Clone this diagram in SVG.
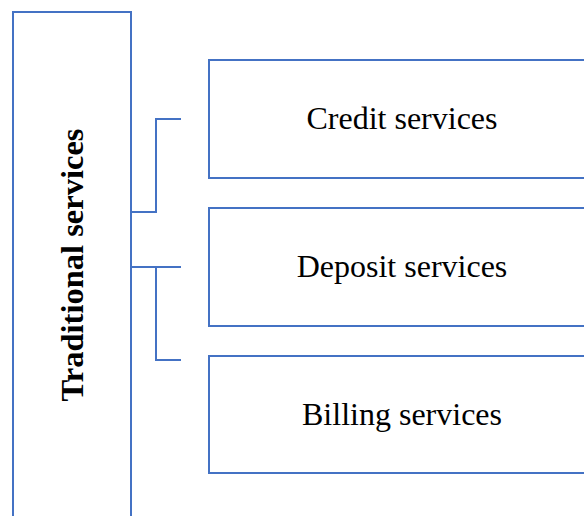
<svg xmlns="http://www.w3.org/2000/svg" width="584" height="516" viewBox="0 0 584 516">
<style>
.box{fill:#fff;stroke:#4472C4;stroke-width:2}
.conn{fill:none;stroke:#4472C4;stroke-width:2}
.lbl{font-family:"Liberation Serif","Times New Roman",serif;font-size:32px;fill:#000;text-anchor:middle}
.main{font-family:"Liberation Serif","Times New Roman",serif;font-size:32.5px;font-weight:bold;fill:#000;text-anchor:middle}
</style>
<rect width="584" height="516" fill="#fff"/>
<g id="traditional">
<rect class="box" x="13" y="12" width="118" height="520"/>
<text class="main" transform="translate(83,265) rotate(-90)">Traditional services</text>
</g>
<g id="credit">
<rect class="box" x="209" y="60" width="390" height="118"/>
<text class="lbl" x="402" y="129">Credit services</text>
</g>
<g id="deposit">
<rect class="box" x="209" y="208" width="390" height="118"/>
<text class="lbl" x="402" y="277">Deposit services</text>
</g>
<g id="billing">
<rect class="box" x="209" y="356" width="390" height="117"/>
<text class="lbl" x="402" y="425">Billing services</text>
</g>
<g id="connectors">
<polyline class="conn" points="131,212 156,212 156,119 181,119"/>
<polyline class="conn" points="131,267 181,267"/>
<polyline class="conn" points="156,267 156,360 181,360"/>
</g>
</svg>
